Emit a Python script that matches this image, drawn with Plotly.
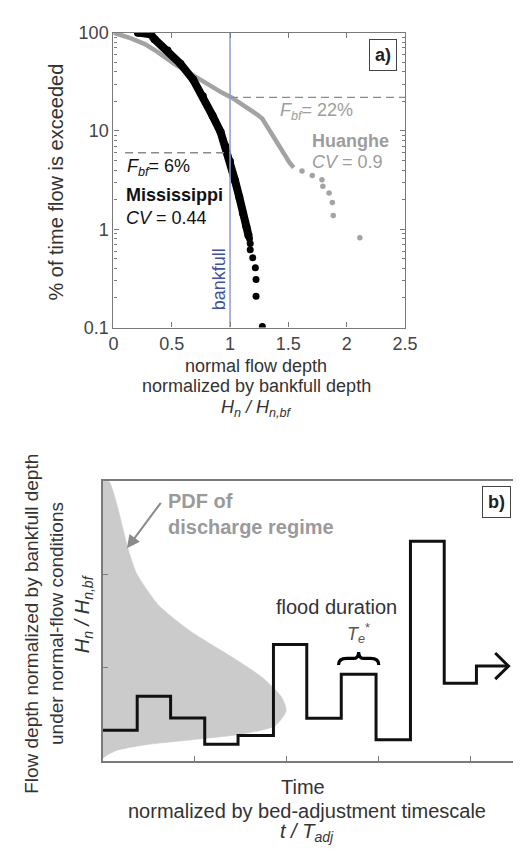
import plotly.graph_objects as go

W, H = 521, 855
FONT = "Liberation Sans, Arial, sans-serif"

# ---------------- Panel a data ----------------
miss_line_x = [0.21, 0.27, 0.32, 0.353, 0.464, 0.574, 0.685, 0.767, 0.85, 0.919, 0.96, 1.0, 1.043, 1.079, 1.112, 1.14, 1.159]
miss_line_y = [100, 99, 96, 85.8, 65.8, 48.4, 33.1, 22.6, 14.3, 9.77, 7.0, 4.9, 3.12, 2.13, 1.45, 1.07, 0.86]
miss_tail_x = [1.167, 1.173, 1.173, 1.195, 1.217, 1.223, 1.223, 1.277]
miss_tail_y = [0.80, 0.716, 0.62, 0.512, 0.407, 0.309, 0.208, 0.1025]

huang_line_x = [0.0, 0.132, 0.27, 0.381, 0.519, 0.656, 0.795, 0.933, 1.016, 1.126, 1.236, 1.277, 1.347, 1.402, 1.457, 1.512, 1.546]
huang_line_y = [100, 89.2, 76.5, 63.3, 48.4, 38.5, 30.7, 24.4, 21.8, 18.0, 14.6, 13.3, 9.77, 7.5, 5.96, 4.74, 4.23]
huang_tail_x = [1.617, 1.705, 1.788, 1.796, 1.849, 1.877, 1.885, 2.113]
huang_tail_y = [3.92, 3.52, 3.19, 2.74, 2.34, 1.87, 1.38, 0.82]

fbf_miss = 6
fbf_huang = 22
bankfull_x = 1.0
xa_ticks = [0, 0.5, 1, 1.5, 2, 2.5]
xa_ticktext = ["0", "0.5", "1", "1.5", "2", "2.5"]
ya_ticks = [0.1, 1, 10, 100]
ya_ticktext = ["0.1", "1", "10", "100"]
ya_minor = [0.2, 0.3, 0.4, 0.5, 0.6, 0.7, 0.8, 0.9,
            2, 3, 4, 5, 6, 7, 8, 9,
            20, 30, 40, 50, 60, 70, 80, 90]

# ---------------- Panel b data ----------------
step_times = [0, 0.374, 0.737, 1.108, 1.470, 1.855, 2.217, 2.592, 2.970, 3.344, 3.711, 4.061, 4.41]
step_levels = [0.330, 0.695, 0.463, 0.182, 0.276, 1.25, 0.461, 0.930, 0.229, 2.354, 0.833, 1.018]

pdf_depth = [3.0, 2.99, 2.705, 2.289, 2.010, 1.664, 1.385, 1.107, 0.899, 0.691, 0.54, 0.378, 0.292, 0.232, 0.177, 0.118, 0.059, 0.03]
pdf_density = [0.0, 0.070, 0.165, 0.270, 0.367, 0.612, 0.962, 1.417, 1.731, 1.941, 1.994, 1.871, 1.522, 0.997, 0.472, 0.157, 0.035, 0.0]

flood_index = 7  # the highlighted flood step (brace)

GRAY = "#a3a3a3"
AX = "#7a7a7a"
TXT = "#333333"

fig = go.Figure()

# panel a traces
fig.add_trace(go.Scatter(x=huang_line_x, y=huang_line_y, mode="lines",
                         line=dict(color=GRAY, width=4.5), xaxis="x", yaxis="y", hoverinfo="skip"))
fig.add_trace(go.Scatter(x=huang_tail_x, y=huang_tail_y, mode="markers",
                         marker=dict(color=GRAY, size=5.5), xaxis="x", yaxis="y", hoverinfo="skip"))
fig.add_trace(go.Scatter(x=miss_line_x, y=miss_line_y, mode="lines+markers",
                         line=dict(color="black", width=8), marker=dict(color="black", size=8),
                         xaxis="x", yaxis="y", hoverinfo="skip"))
fig.add_trace(go.Scatter(x=miss_tail_x, y=miss_tail_y, mode="markers",
                         marker=dict(color="black", size=7), xaxis="x", yaxis="y", hoverinfo="skip"))
# dashed Fbf lines
fig.add_trace(go.Scatter(x=[0.1, bankfull_x], y=[fbf_miss, fbf_miss], mode="lines",
                         line=dict(color="#8a8a8a", width=1.3, dash="8px,5px"), xaxis="x", yaxis="y", hoverinfo="skip"))
fig.add_trace(go.Scatter(x=[bankfull_x, 2.5], y=[fbf_huang, fbf_huang], mode="lines",
                         line=dict(color="#8a8a8a", width=1.3, dash="8px,5px"), xaxis="x", yaxis="y", hoverinfo="skip"))
# bankfull line
fig.add_trace(go.Scatter(x=[bankfull_x, bankfull_x], y=[0.1, 100], mode="lines",
                         line=dict(color="#8d9cd2", width=1.5), xaxis="x", yaxis="y", hoverinfo="skip"))

# panel b traces
fig.add_trace(go.Scatter(x=pdf_density, y=pdf_depth, mode="lines", fill="toself",
                         fillcolor="#cbcbcb", line=dict(color="#cbcbcb", width=0.5, shape="spline", smoothing=0.6),
                         xaxis="x2", yaxis="y2", hoverinfo="skip"))
fig.add_trace(go.Scatter(x=step_times, y=step_levels + [step_levels[-1]], mode="lines",
                         line=dict(color="#111111", width=3, shape="hv"),
                         xaxis="x2", yaxis="y2", hoverinfo="skip"))
# arrow head at end of time series
tip_x, tip_y = step_times[-1], step_levels[-1]
fig.add_trace(go.Scatter(x=[tip_x - 0.145, tip_x, tip_x - 0.145], y=[tip_y + 0.14, tip_y, tip_y - 0.14],
                         mode="lines", line=dict(color="#111111", width=3),
                         xaxis="x2", yaxis="y2", hoverinfo="skip"))

# brace over the flood step
bx0, bx1 = step_times[flood_index] - 0.03, step_times[flood_index + 1] + 0.03
bxc = (bx0 + bx1) / 2
byb = step_levels[flood_index] + 0.10
bym = byb + 0.07
byt = bym + 0.07
brace = (f"M {bx0},{byb} Q {bx0},{bym} {bx0+0.09},{bym} L {bxc-0.06},{bym} "
         f"Q {bxc},{bym} {bxc},{byt} Q {bxc},{bym} {bxc+0.06},{bym} L {bx1-0.09},{bym} "
         f"Q {bx1},{bym} {bx1},{byb}")

shapes = [dict(type="path", path=brace, xref="x2", yref="y2", line=dict(color="black", width=3.2))]


def P(px, py):
    return px / W, 1 - py / H


annotations = []


def txt(text, px, py, size=18, color=TXT, xanchor="center", angle=0, **kw):
    x, y = P(px, py)
    annotations.append(dict(text=text, x=x, y=y, xref="paper", yref="paper", showarrow=False,
                            xanchor=xanchor, yanchor="middle", textangle=angle,
                            font=dict(family=FONT, size=size, color=color), **kw))


# panel a texts
txt("<i>F<sub>bf</sub></i>= 6%", 116, 153, color="#111", xanchor="left")
txt("<b>Mississippi</b>", 115, 181, color="#111", xanchor="left")
txt("<i>CV</i> = 0.44", 115, 205, color="#111", xanchor="left")
txt("<i>F<sub>bf</sub></i>= 22%", 275, 96, color="#9d9d9d", xanchor="left")
txt("<b>Huanghe</b>", 308, 126, color="#9d9d9d", xanchor="left")
txt("<i>CV</i> = 0.9", 308, 147, color="#9d9d9d", xanchor="left")
txt("bankfull", 213, 268, color="#3f51a3", angle=-90, size=18)
txt("<b>a)</b>", 383, 38, size=18, color="#222", bordercolor="#444", borderwidth=1, bgcolor="white", borderpad=5)
txt("% of time flow is exceeded", 45, 168, angle=-90, size=20)
txt("normal flow depth", 252, 356, size=18)
txt("normalized by bankfull depth", 252, 377, size=18)
txt("<i>H<sub>n</sub> / H<sub>n,bf</sub></i>", 252, 400, size=18)

# panel b texts
txt("<b>PDF of</b>", 158, 495, color="#9a9a9a", xanchor="left", size=20)
txt("<b>discharge regime</b>", 158, 521, color="#9a9a9a", xanchor="left", size=20)
txt("flood duration", 335, 603, size=20)
txt("<i>T<sub>e</sub></i><sup>*</sup>", 358, 630, size=18, color="#555")
txt("<b>b)</b>", 501, 496, size=18, color="#222", bordercolor="#444", borderwidth=1, bgcolor="white", borderpad=5)
txt("Flow depth normalized by bankfull depth", 19, 620, angle=-90, size=19)
txt("under normal-flow conditions", 45, 620, angle=-90, size=19)
txt("<i>H<sub>n</sub> / H<sub>n,bf</sub></i>", 73, 610, angle=-90, size=20)
txt("Time", 300, 787, size=20)
txt("normalized by bed-adjustment timescale", 305, 812, size=20)
txt("<i>t / T<sub>adj</sub></i>", 305, 834, size=20)

# PDF arrow
tx, ty = P(118, 543)
annotations.append(dict(text="", x=tx, y=ty, xref="paper", yref="paper", showarrow=True,
                        ax=35, ay=-47, arrowcolor="#8a8a8a", arrowwidth=2, arrowhead=2, arrowsize=1.3))

fig.update_layout(
    width=W, height=H, margin=dict(l=0, r=0, t=0, b=0),
    paper_bgcolor="white", plot_bgcolor="white", showlegend=False,
    font=dict(family=FONT, size=18, color=TXT),
    xaxis=dict(domain=[104 / W, 406 / W], range=[0, 2.5], tickvals=xa_ticks, ticktext=xa_ticktext,
               ticks="inside", ticklen=5, tickcolor=AX, showline=True, linecolor=AX, linewidth=1.3,
               mirror="ticks", showgrid=False, zeroline=False, anchor="y",
               tickfont=dict(size=18, color="#444")),
    yaxis=dict(domain=[1 - 317 / H, 1 - 15 / H], type="log", range=[-1, 2], tickvals=ya_ticks,
               ticktext=ya_ticktext, ticks="inside", ticklen=5, tickcolor=AX, showline=True,
               linecolor=AX, linewidth=1.3, mirror="ticks", showgrid=False, zeroline=False, anchor="x",
               tickfont=dict(size=18, color="#444"),
               minor=dict(ticks="inside", ticklen=3, tickcolor=AX, tickmode="array",
                          tickvals=ya_minor, showgrid=False)),
    xaxis2=dict(domain=[93 / W, 1.0], range=[0, (W - 93) / 95.3], tickvals=[1, 2, 3, 4],
                showticklabels=False, ticks="inside", ticklen=5, tickcolor=AX, showline=True,
                linecolor=AX, linewidth=1.5, mirror=True, showgrid=False, zeroline=False, anchor="y2"),
    yaxis2=dict(domain=[1 - 761 / H, 1 - 474 / H], range=[0, 3], tickvals=[1, 2],
                showticklabels=False, ticks="inside", ticklen=5, tickcolor=AX, showline=True,
                linecolor=AX, linewidth=1.5, showgrid=False, zeroline=False, anchor="x2"),
    shapes=shapes, annotations=annotations,
)

fig.write_html("out.html")
